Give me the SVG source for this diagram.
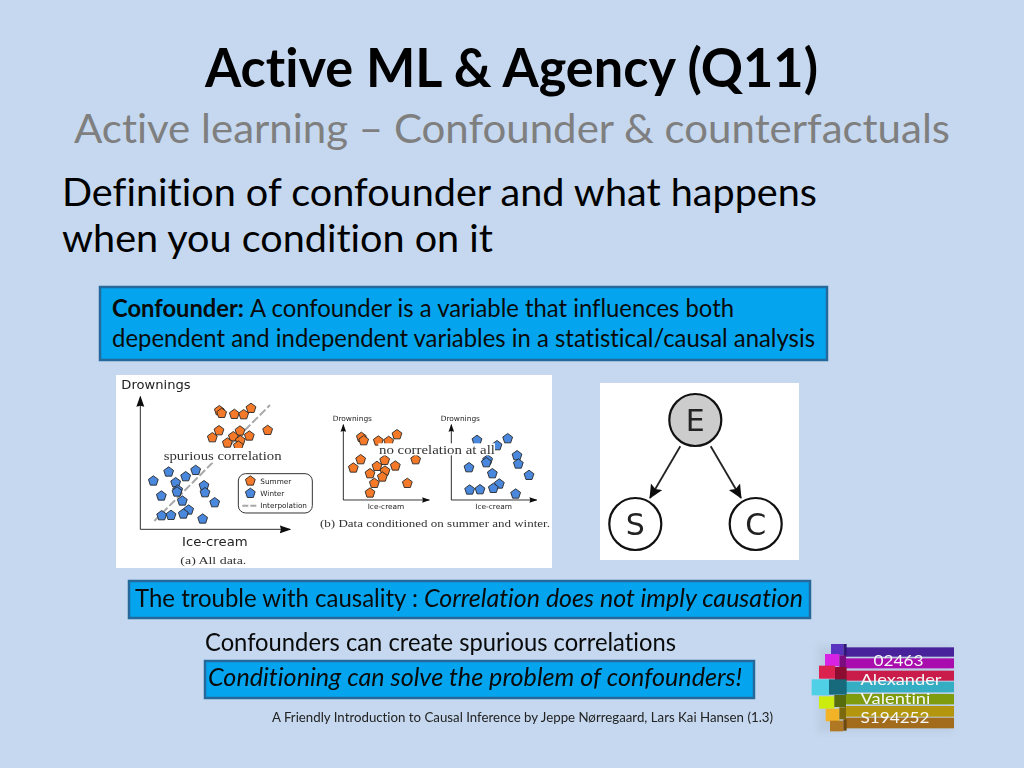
<svg xmlns="http://www.w3.org/2000/svg" width="1024" height="768" viewBox="0 0 1024 768">
<defs>
<style>
text{font-family:"Lato","Open Sans","Liberation Sans",sans-serif;fill:#000;font-variant-ligatures:none}
.box{fill:#04a5ee;stroke:#25689c;stroke-width:2.5}
.t{font-size:24.5px;fill:#0a0a0a}
.serif{font-family:"Liberation Serif","DejaVu Serif",serif;fill:#333}
.dj{font-family:"DejaVu Sans","Liberation Sans",sans-serif;fill:#222}
.s{fill:#f47a2a;stroke:#222;stroke-width:2.6}
.w{fill:#4a88dc;stroke:#222;stroke-width:2.6}
.ax{stroke:#111;stroke-width:2.6;fill:none}
.nd{stroke:#111;stroke-width:2.2;fill:#fff}
.lbl{font-size:15.8px;fill:#f6f6f6}
</style>
<filter id="soft" x="-5%" y="-5%" width="110%" height="110%"><feGaussianBlur stdDeviation=".45"/></filter>
<filter id="shadow" x="-10%" y="-10%" width="120%" height="120%"><feGaussianBlur stdDeviation="3"/></filter>
<polygon id="p" points="0,-15.5 14.7,-4.8 9.1,12.5 -9.1,12.5 -14.7,-4.8"/>
<marker id="ah" viewBox="0 0 14 14" refX="13" refY="7" markerWidth="14" markerHeight="14" markerUnits="userSpaceOnUse" orient="auto"><path d="M0,0.5L14,7L0,13.5L2.5,7Z" fill="#111"/></marker>
<marker id="ax" viewBox="0 0 10 10" refX="9" refY="5" markerWidth="34" markerHeight="34" orient="auto" markerUnits="userSpaceOnUse"><path d="M0,1.5L10,5L0,8.5L1,5Z" fill="#111"/></marker>
<marker id="axs" viewBox="0 0 10 10" refX="9" refY="5" markerWidth="24" markerHeight="24" orient="auto" markerUnits="userSpaceOnUse"><path d="M0,1.5L10,5L0,8.5L1,5Z" fill="#111"/></marker>
</defs>
<rect width="1024" height="768" fill="#c5d8ef"/>
<text x="205" y="87" font-size="54" font-weight="700" textLength="613" lengthAdjust="spacingAndGlyphs">Active ML &amp; Agency (Q11)</text>
<text x="74" y="143" font-size="41" style="fill:#7f7f7f" textLength="876" lengthAdjust="spacingAndGlyphs">Active learning – Confounder &amp; counterfactuals</text>
<text x="62" y="206" font-size="38.5" textLength="755" lengthAdjust="spacingAndGlyphs">Definition of confounder and what happens</text>
<text x="62" y="252" font-size="38.5" textLength="431" lengthAdjust="spacingAndGlyphs">when you condition on it</text>

<g id="definition-box">
<rect class="box" x="100" y="287" width="727" height="73"/>
<text class="t" x="112" y="317" font-weight="700" textLength="132" lengthAdjust="spacingAndGlyphs">Confounder:</text>
<text class="t" x="250" y="317" textLength="484" lengthAdjust="spacingAndGlyphs">A confounder is a variable that influences both</text>
<text class="t" x="112" y="347" textLength="703" lengthAdjust="spacingAndGlyphs">dependent and independent variables in a statistical/causal analysis</text>
</g>

<g id="scatter-figure">
<rect x="116" y="375" width="436" height="193" fill="#fff"/>
<g filter="url(#soft)">
<g transform="translate(110 370) scale(.33333)">
<path class="ax" d="M91,478V80" marker-end="url(#ax)"/><path class="ax" d="M91,478H540" marker-end="url(#ax)"/>
<path d="M133,453L480,105" stroke="#a8a8a8" stroke-width="6" stroke-dasharray="24 8" fill="none"/>
<text class="dj" x="34" y="58" font-size="38" textLength="208" lengthAdjust="spacingAndGlyphs">Drownings</text>
<text class="dj" x="216" y="527" font-size="38" textLength="197" lengthAdjust="spacingAndGlyphs">Ice-cream</text>
<text class="serif" x="211" y="581" font-size="33" textLength="198" lengthAdjust="spacingAndGlyphs">(a) All data.</text>
<g class="s"><use href="#p" x="328" y="122"/><use href="#p" x="335" y="130"/><use href="#p" x="373" y="133"/><use href="#p" x="401" y="134"/><use href="#p" x="423" y="115"/><use href="#p" x="327" y="182"/><use href="#p" x="307" y="203"/><use href="#p" x="390" y="183"/><use href="#p" x="370" y="200"/><use href="#p" x="352" y="219"/><use href="#p" x="391" y="212"/><use href="#p" x="385" y="228"/><use href="#p" x="418" y="198"/><use href="#p" x="473" y="181"/></g>
<g class="w"><use href="#p" x="130" y="333"/><use href="#p" x="176" y="306"/><use href="#p" x="227" y="320"/><use href="#p" x="257" y="301"/><use href="#p" x="197" y="338"/><use href="#p" x="203" y="360"/><use href="#p" x="201" y="366"/><use href="#p" x="282" y="347"/><use href="#p" x="285" y="368"/><use href="#p" x="154" y="378"/><use href="#p" x="217" y="393"/><use href="#p" x="314" y="398"/><use href="#p" x="236" y="420"/><use href="#p" x="220" y="432"/><use href="#p" x="155" y="437"/><use href="#p" x="183" y="436"/><use href="#p" x="278" y="447"/></g>
<rect x="160" y="234" width="360" height="44" fill="#fff"/>
<text class="serif" x="161" y="270" font-size="38" textLength="354" lengthAdjust="spacingAndGlyphs">spurious correlation</text>
<rect x="385" y="311" width="222" height="118" rx="22" fill="#fff" stroke="#333" stroke-width="3"/>
<g class="s"><use href="#p" x="421" y="333"/></g><g class="w"><use href="#p" x="421" y="370"/></g>
<path d="M397,407H440" stroke="#a8a8a8" stroke-width="6" stroke-dasharray="18 6"/>
<text class="dj" x="451" y="341" font-size="22" textLength="93" lengthAdjust="spacingAndGlyphs">Summer</text><text class="dj" x="451" y="378" font-size="22" textLength="72" lengthAdjust="spacingAndGlyphs">Winter</text><text class="dj" x="451" y="414" font-size="22" textLength="140" lengthAdjust="spacingAndGlyphs">Interpolation</text>
</g>
<g transform="translate(320 400) scale(.33333)">
<path class="ax" d="M70,300V74" marker-end="url(#axs)"/><path class="ax" d="M70,300H328" marker-end="url(#axs)"/>
<path class="ax" d="M394,300V74" marker-end="url(#axs)"/><path class="ax" d="M394,300H650" marker-end="url(#axs)"/>
<text class="dj" x="38" y="64" font-size="22" textLength="118" lengthAdjust="spacingAndGlyphs">Drownings</text>
<text class="dj" x="362" y="64" font-size="22" textLength="118" lengthAdjust="spacingAndGlyphs">Drownings</text>
<text class="dj" x="143" y="328" font-size="22" textLength="110" lengthAdjust="spacingAndGlyphs">Ice-cream</text>
<text class="dj" x="466" y="328" font-size="22" textLength="110" lengthAdjust="spacingAndGlyphs">Ice-cream</text>
<text class="serif" x="0" y="381" font-size="33" textLength="690" lengthAdjust="spacingAndGlyphs">(b) Data conditioned on summer and winter.</text>
<g class="s"><use href="#p" x="124" y="112"/><use href="#p" x="131" y="122"/><use href="#p" x="175" y="123"/><use href="#p" x="206" y="124"/><use href="#p" x="231" y="104"/><use href="#p" x="122" y="179"/><use href="#p" x="100" y="204"/><use href="#p" x="194" y="181"/><use href="#p" x="171" y="199"/><use href="#p" x="150" y="221"/><use href="#p" x="195" y="213"/><use href="#p" x="187" y="231"/><use href="#p" x="226" y="198"/><use href="#p" x="287" y="179"/><use href="#p" x="163" y="250"/><use href="#p" x="150" y="279"/><use href="#p" x="262" y="250"/></g>
<g class="w"><use href="#p" x="471" y="121"/><use href="#p" x="531" y="137"/><use href="#p" x="563" y="116"/><use href="#p" x="503" y="180"/><use href="#p" x="499" y="188"/><use href="#p" x="591" y="167"/><use href="#p" x="595" y="192"/><use href="#p" x="447" y="203"/><use href="#p" x="517" y="221"/><use href="#p" x="627" y="226"/><use href="#p" x="538" y="252"/><use href="#p" x="520" y="265"/><use href="#p" x="449" y="270"/><use href="#p" x="480" y="269"/><use href="#p" x="587" y="282"/></g>
<rect x="175" y="130" width="350" height="36" fill="#fff"/>
<text class="serif" x="177" y="161" font-size="38" textLength="348" lengthAdjust="spacingAndGlyphs">no correlation at all</text>
</g>
</g>
</g>

<rect x="600" y="383" width="199" height="177" fill="#fff"/>
<g id="connectors" filter="url(#soft)">
<path d="M680.3,446.3L650,498" stroke="#222" stroke-width="1.8" fill="none" marker-end="url(#ah)"/>
<path d="M710.7,446.3L741,498" stroke="#222" stroke-width="1.8" fill="none" marker-end="url(#ah)"/>
</g>
<g id="node-E"><circle class="nd" cx="695.3" cy="420" r="26" style="fill:#cccccc"/><text class="dj" x="695.3" y="431" font-size="30" text-anchor="middle">E</text></g>
<g id="node-S"><circle class="nd" cx="635.3" cy="524" r="26"/><text class="dj" x="635.3" y="535" font-size="30" text-anchor="middle">S</text></g>
<g id="node-C"><circle class="nd" cx="755.7" cy="524" r="26"/><text class="dj" x="755.7" y="535" font-size="30" text-anchor="middle">C</text></g>

<g id="trouble-box">
<rect class="box" x="129" y="581" width="681" height="37"/>
<text class="t" x="135" y="607" textLength="283" lengthAdjust="spacingAndGlyphs">The trouble with causality :</text>
<text class="t" x="424" y="607" font-style="italic" textLength="379" lengthAdjust="spacingAndGlyphs">Correlation does not imply causation</text>
</g>
<text class="t" x="205" y="651" textLength="471" lengthAdjust="spacingAndGlyphs">Confounders can create spurious correlations</text>
<g id="conditioning-box">
<rect class="box" x="205" y="661" width="549" height="37"/>
<text class="t" x="208" y="686" font-style="italic" textLength="534" lengthAdjust="spacingAndGlyphs">Conditioning can solve the problem of confounders!</text>
</g>
<text x="272" y="722" font-size="14" style="fill:#222" textLength="501" lengthAdjust="spacingAndGlyphs">A Friendly Introduction to Causal Inference by Jeppe Nørregaard, Lars Kai Hansen  (1.3)</text>

<g id="student-badge">
<rect x="818" y="646" width="134" height="86" fill="#aebfd2" opacity=".45" filter="url(#shadow)"/>
<g transform="translate(800 635) scale(.33333)" filter="url(#soft)">
<rect x="135" y="37" width="327" height="28" fill="#46229a"/>
<rect x="135" y="70" width="327" height="30" fill="#a90fae"/>
<rect x="135" y="107" width="327" height="30" fill="#c91c4c"/>
<rect x="135" y="140" width="327" height="32" fill="#34aec4"/>
<rect x="135" y="177" width="327" height="31" fill="#7e9c0c"/>
<rect x="135" y="213" width="327" height="32" fill="#b3960a"/>
<rect x="135" y="248" width="327" height="32" fill="#a36c1c"/>
<rect x="93" y="27" width="37" height="34" fill="#5a32c0"/><rect x="130" y="27" width="10" height="38" fill="#32157a"/>
<rect x="75" y="57" width="43" height="37" fill="#d824e4"/><rect x="118" y="61" width="20" height="37" fill="#7c0a80"/>
<rect x="57" y="92" width="48" height="39" fill="#dc2050"/><rect x="105" y="96" width="35" height="39" fill="#8c1030"/>
<rect x="35" y="133" width="52" height="48" fill="#50d0e6"/><rect x="87" y="133" width="53" height="46" fill="#146a7c"/>
<rect x="57" y="184" width="46" height="37" fill="#ccec10"/><rect x="103" y="180" width="35" height="36" fill="#566c08"/>
<rect x="77" y="221" width="41" height="38" fill="#f2b428"/><rect x="118" y="217" width="20" height="36" fill="#7c6808"/>
<rect x="90" y="257" width="40" height="32" fill="#b07820"/><rect x="130" y="253" width="10" height="34" fill="#6e4810"/>
</g>
<text class="lbl" x="898.5" y="665.5" text-anchor="middle" textLength="50" lengthAdjust="spacingAndGlyphs">02463</text>
<text class="lbl" x="901" y="684.5" text-anchor="middle" textLength="81" lengthAdjust="spacingAndGlyphs">Alexander</text>
<text class="lbl" x="895.5" y="703.5" text-anchor="middle" textLength="70" lengthAdjust="spacingAndGlyphs">Valentini</text>
<text class="lbl" x="895" y="722.5" text-anchor="middle" textLength="69" lengthAdjust="spacingAndGlyphs">S194252</text>
</g>
</svg>
